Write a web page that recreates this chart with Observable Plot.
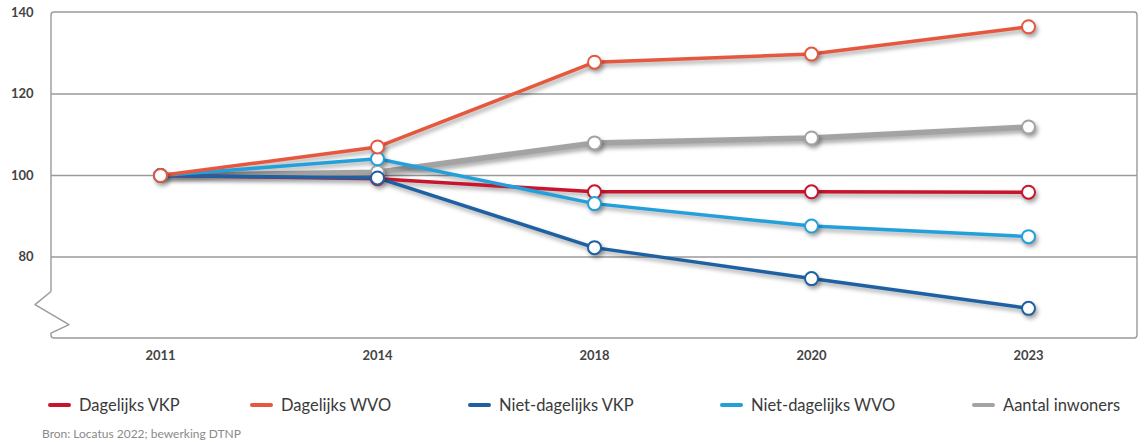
<!DOCTYPE html>
<html>
<head>
<meta charset="utf-8">
<script src="https://cdn.jsdelivr.net/npm/d3@7"></script>
<script src="https://cdn.jsdelivr.net/npm/@observablehq/plot@0.6"></script>
<style>
  html, body { margin: 0; padding: 0; background: #fff; }
  body { width: 1145px; height: 442px; overflow: hidden; font-family: Lato, "Open Sans", sans-serif; }
  #chart svg { display: block; }
  #chart g[aria-label="line"], #chart g[aria-label="dot"] { filter: drop-shadow(2px 3px 2px rgba(0,0,0,0.35)); }
  #chart g[aria-label^="x-axis"] text, #chart g[aria-label^="y-axis"] text { font-weight: 700; fill: #444; }
  #legend { display: flex; align-items: center; margin-top: 21px; padding-left: 48px; height: 24px; }
  .item { display: flex; align-items: center; font-size: 16.5px; color: #3a3a3a; flex: none; }
  .sw { width: 23px; height: 4px; border-radius: 2px; margin-right: 8px; }
  #source { font-size: 12px; color: #8a8a8a; padding-left: 42px; margin-top: 9px; }
</style>
</head>
<body>
<div id="chart"></div>
<div id="legend"></div>
<div id="source">Bron: Locatus 2022; bewerking DTNP</div>
<script>
const years = ["2011", "2014", "2018", "2020", "2023"];
const seriesNames = ["Dagelijks VKP", "Dagelijks WVO", "Niet-dagelijks VKP", "Niet-dagelijks WVO", "Aantal inwoners"];
const seriesColors = ["#c8152e", "#e6573d", "#1d61a3", "#23a0dc", "#a3a3a3"];
const dagelijksVKP = [100, 99.2, 96.0, 96.0, 95.9];
const dagelijksWVO = [100, 107.0, 127.8, 129.8, 136.5];
const nietDagelijksVKP = [100, 99.4, 82.3, 74.7, 67.4];
const nietDagelijksWVO = [100, 104.1, 93.1, 87.6, 85.0];
const aantalInwoners = [100, 100.8, 108.0, 109.2, 111.9];
const yTicks = [80, 100, 120, 140];
const gridValues = [80, 100, 120];

const seriesValues = [dagelijksVKP, dagelijksWVO, nietDagelijksVKP, nietDagelijksWVO, aantalInwoners];
const drawOrder = ["Aantal inwoners", "Dagelijks VKP", "Niet-dagelijks VKP", "Niet-dagelijks WVO", "Dagelijks WVO"];
const rows = [];
drawOrder.forEach(name => {
  const vals = seriesValues[seriesNames.indexOf(name)];
  years.forEach((yr, i) => rows.push({year: yr, value: vals[i], series: name}));
});
const greyRows = rows.filter(d => d.series === "Aantal inwoners");
const colorRows = rows.filter(d => d.series !== "Aantal inwoners");

const W = 1145, H = 372;
const mL = 51, mR = 8, mT = 12, mB = 34;
const plot = Plot.plot({
  width: W, height: H,
  marginLeft: mL, marginRight: mR, marginTop: mT, marginBottom: mB,
  style: {fontFamily: "Lato, 'Open Sans', sans-serif", fontSize: "13px", color: "#333", background: "#fff"},
  x: {type: "point", domain: years, padding: 0.5, label: null, tickSize: 0, tickPadding: 12},
  y: {domain: [60, 140], ticks: yTicks, label: null, tickSize: 0, tickPadding: 18},
  color: {domain: seriesNames, range: seriesColors},
  marks: [
    Plot.ruleY(gridValues, {stroke: "#9a9a9a", strokeWidth: 1.3}),
    Plot.line(greyRows, {x: "year", y: "value", z: "series", stroke: "series", strokeWidth: 5.5}),
    Plot.line(colorRows, {x: "year", y: "value", z: "series", stroke: "series", strokeWidth: 3.5}),
    Plot.dot(rows, {x: "year", y: "value", stroke: "series", fill: "white", r: 6.5, strokeWidth: 2})
  ]
});
document.getElementById("chart").appendChild(plot);

// frame with broken-axis zigzag, positioned through the y scale
const ys = plot.scale("y");
const fLeft = mL, fRight = W - mR;
const fTop = ys.apply(140), fBottom = ys.apply(60);
const zig = [71.4, 68.2, 63.3, 61.2].map(v => ys.apply(v));
const rr = 3;
const p = d3.path();
p.moveTo(fLeft, zig[0]);
p.lineTo(fLeft, fTop + rr);
p.quadraticCurveTo(fLeft, fTop, fLeft + rr, fTop);
p.lineTo(fRight - rr, fTop);
p.quadraticCurveTo(fRight, fTop, fRight, fTop + rr);
p.lineTo(fRight, fBottom - rr);
p.quadraticCurveTo(fRight, fBottom, fRight - rr, fBottom);
p.lineTo(fLeft + rr, fBottom);
p.quadraticCurveTo(fLeft, fBottom, fLeft, fBottom - rr);
p.lineTo(fLeft, zig[3]);
p.lineTo(fLeft + 18, zig[2]);
p.lineTo(fLeft - 16, zig[1]);
p.lineTo(fLeft, zig[0]);
d3.select(plot).insert("path", "g[aria-label='rule']")
  .attr("d", p.toString())
  .attr("fill", "none")
  .attr("stroke", "#9a9a9a")
  .attr("stroke-width", 1.4)
  .attr("stroke-linejoin", "round");

// legend (item widths follow the reference spacing)
const itemWidths = [202, 218, 252, 252, null];
const legend = d3.select("#legend");
seriesNames.forEach((name, i) => {
  const it = legend.append("div").attr("class", "item");
  if (itemWidths[i]) it.style("width", itemWidths[i] + "px");
  it.append("div").attr("class", "sw").style("background", seriesColors[i]);
  it.append("span").text(name);
});
</script>
</body>
</html>
